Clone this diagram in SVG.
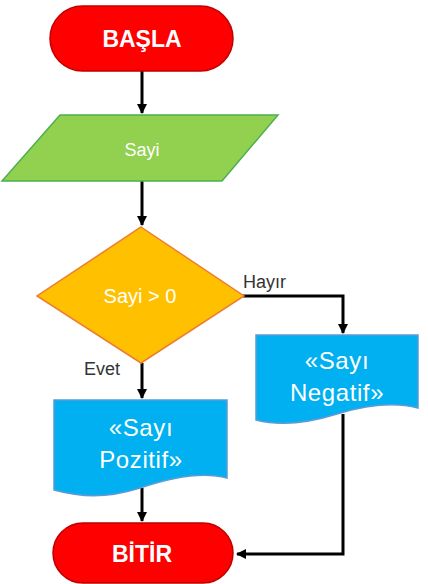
<svg xmlns="http://www.w3.org/2000/svg" width="428" height="584" viewBox="0 0 428 584">
<defs>
<marker id="ah" markerWidth="10" markerHeight="12" refX="9" refY="5" orient="auto" markerUnits="userSpaceOnUse">
<path d="M0,0 L10,5 L0,10 Z" fill="#000"/>
</marker>
<style>
.term{fill:#FF0000;stroke:#C00000;stroke-width:1.5}
.io{fill:#92D050;stroke:#4CAF50;stroke-width:1.5}
.dec{fill:#FFC000;stroke:#ED7D31;stroke-width:1.5}
.doc{fill:#00B0F0;stroke:#5B9BD5;stroke-width:1.5}
.wt{fill:#fff;font-family:"Liberation Sans",Arial,sans-serif;text-anchor:middle}
.b{font-weight:bold;font-size:23px}
.dt{font-size:24px;letter-spacing:0.6px}
.lbl{fill:#333;font-family:"Liberation Sans",Arial,sans-serif;font-size:18px}
.c{fill:none;stroke:#000;stroke-width:3}
</style>
</defs>
<rect width="428" height="584" fill="#fff"/>
<g id="connectors">
<line class="c" x1="142" y1="71" x2="142" y2="113" marker-end="url(#ah)"/>
<line class="c" x1="142" y1="181" x2="142" y2="225" marker-end="url(#ah)"/>
<polyline class="c" points="243,296 343,296 343,333" marker-end="url(#ah)"/>
<line class="c" x1="142" y1="363" x2="142" y2="398" marker-end="url(#ah)"/>
<line class="c" x1="142" y1="488" x2="142" y2="521" marker-end="url(#ah)"/>
<polyline class="c" points="343,414 343,554 237,554" marker-end="url(#ah)"/>
</g>
<g id="basla">
<rect class="term" x="50" y="6" width="183" height="65" rx="32.5"/>
<text class="wt b" x="142" y="47">BAŞLA</text>
</g>
<g id="sayi">
<polygon class="io" points="60,115 278,115 222,181 2,181"/>
<text class="wt" x="142" y="156" font-size="18">Sayi</text>
</g>
<g id="kosul">
<polygon class="dec" points="141,227 244,296 141,363 37,296"/>
<text class="wt" x="140" y="303" font-size="20">Sayi &gt; 0</text>
</g>
<text class="lbl" x="243" y="288">Hayır</text>
<text class="lbl" x="84" y="375">Evet</text>
<g id="negatif">
<path class="doc" d="M256,335 H418 V408 C395,402 370,404 337,414 C305,424 280,426 256,420 Z"/>
<text class="wt dt" x="337" y="369">«Sayı</text>
<text class="wt dt" x="337" y="401">Negatif»</text>
</g>
<g id="pozitif">
<path class="doc" d="M54,400 H227 V478 C205,472 175,476 140,488 C105,499 80,497 54,490 Z"/>
<text class="wt dt" x="141" y="436">«Sayı</text>
<text class="wt dt" x="141" y="468">Pozitif»</text>
</g>
<g id="bitir">
<rect class="term" x="53" y="523" width="180" height="60" rx="30"/>
<text class="wt b" x="142" y="562">BİTİR</text>
</g>
</svg>
